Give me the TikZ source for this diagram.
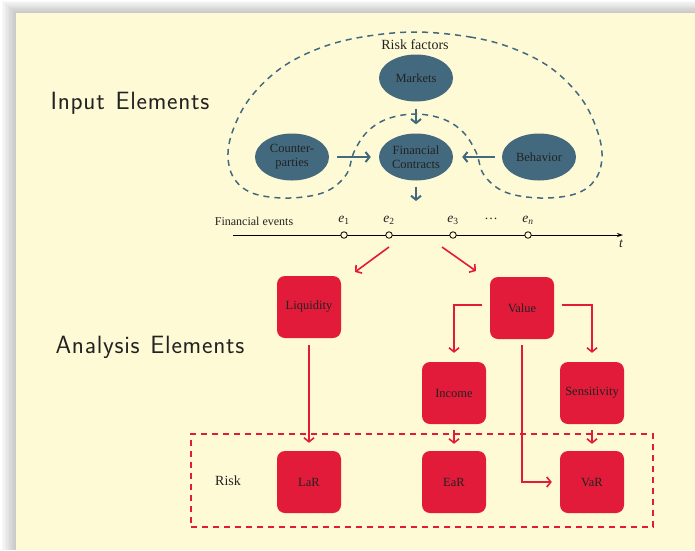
\documentclass[tikz,border=0pt]{standalone}
\usepackage{fontspec}
\setmainfont{Liberation Serif}
\usetikzlibrary{arrows.meta,shapes.geometric}
\definecolor{bgyellow}{HTML}{FFFAD6}
\definecolor{ebblue}{HTML}{43697F}
\definecolor{ebred}{HTML}{E31B3A}
\definecolor{txtdark}{HTML}{222222}
\newfontfamily\headfont[LetterSpace=3,WordSpace=1.25]{Latin Modern Sans}
\tikzset{
  ell/.style={ellipse, fill=ebblue, minimum width=74pt, minimum height=47pt, inner sep=0pt,
    font=\fontsize{12.5}{14}\selectfont, text=txtdark, align=center},
  rbox/.style={rectangle, rounded corners=8pt, fill=ebred, minimum width=64pt, minimum height=62pt,
    inner sep=0pt, font=\fontsize{12.5}{14}\selectfont, text=txtdark},
  barrow/.style={draw=ebblue, line width=2pt, -{Straight Barb[length=4pt,width=10pt]}},
  rarrow/.style={draw=ebred, line width=1.6pt, -{Straight Barb[length=4pt,width=10pt]}},
  evt/.style={circle, draw=black, fill=bgyellow, minimum size=6.5pt, inner sep=0pt, line width=0.8pt},
  evlab/.style={font=\fontsize{12}{14}\selectfont, text=txtdark},
  elab/.style={font=\fontsize{13.5}{15}\selectfont, text=txtdark},
  heading/.style={font=\headfont\fontsize{25}{28}\selectfont, text=txtdark, anchor=west},
  serif14/.style={font=\fontsize{14}{16}\selectfont, text=txtdark},
}
\begin{document}
\begin{tikzpicture}[x=1pt,y=-1pt]
\useasboundingbox (0,0) rectangle (695,550);
% shadow and background
\foreach \i in {1,...,10} {
  \fill[black, opacity=0.025] ({16-\i*1.4},{13-\i*1.2}) rectangle (695,550);
}
\fill[bgyellow] (16,13) rectangle (695,550);

% headings
\node[heading] (hin) at (47,103) {Input Elements};
\node[heading] (han) at (52,347) {Analysis Elements};

% risk factor region
\draw[ebblue, line width=1.5pt, dash pattern=on 6pt off 5pt]
  plot[smooth cycle, tension=0.6] coordinates {
  (415,32) (470,37) (512,48) (551,68) (581,98) (597,130) (602,157) (595,180) (575,194) (540,198)
  (505,192) (484,175) (476,152) (463,132) (443,119) (415,114) (387,119) (367,132) (354,152)
  (346,175) (325,192) (290,198) (255,194) (235,180) (228,157) (233,130) (250,98) (281,68)
  (320,48) (362,37)};

\node[serif14] (rf) at (415,45) {Risk factors};

% ellipses
\node[ell] (mk) at (416,78) {Markets};
\node[ell] (fc) at (416,157) {Financial\\Contracts};
\node[ell] (cp) at (292,157) {Counter-\\parties};
\node[ell] (bh) at (539,157) {Behavior};
\coordinate (fcout) at (416,201);

\draw[barrow, shorten <=7pt, shorten >=9pt] (mk) -- (fc);
\draw[barrow, shorten <=8pt, shorten >=8pt] (cp) -- (fc);
\draw[barrow, shorten <=7pt, shorten >=9pt] (bh) -- (fc);
\draw[barrow, shorten <=6pt] (fc) -- (fcout);

% timeline
\node[evlab, anchor=center] (fe) at (254,221) {Financial events};
\coordinate (axs) at (233,235);
\coordinate (axe) at (623,235);
\draw[black, line width=0.8pt, -{Stealth[length=6pt,width=4pt]}] (axs) -- (axe);
\node[evt] (ev1) at (344,235) {};
\node[evt] (ev2) at (389,235) {};
\node[evt] (ev3) at (453,235) {};
\node[evt] (evn) at (528,235) {};
\node[elab] (le1) at (344,220) {\textit{e}\textsubscript{1}};
\node[elab] (le2) at (389,220) {\textit{e}\textsubscript{2}};
\node[elab] (le3) at (453,220) {\textit{e}\textsubscript{3}};
\node[elab] (ldots) at (491,219) {…};
\node[elab] (len) at (528,220) {\textit{e}\textsubscript{\textit{n}}};
\node[elab] (lt) at (621,244) {\textit{t}};

% red boxes
\node[rbox] (liq) at (309,307) {Liquidity};
\node[rbox] (val) at (522,308) {Value};
\node[rbox] (inc) at (454,393) {Income};
\node[rbox] (sen) at (592,393) {Sensitivity};
\node[rbox] (lar) at (309,482) {LaR};
\node[rbox] (ear) at (454,482) {EaR};
\node[rbox] (var) at (592,482) {VaR};

\coordinate (s1) at (389,247);
\coordinate (t1) at (355,272);
\coordinate (s2) at (442,247);
\coordinate (t2) at (476,271);
\draw[rarrow] (s1) -- (t1);
\draw[rarrow] (s2) -- (t2);

\draw[rarrow, shorten <=7pt, shorten >=8pt] (liq) -- (lar);
\draw[rarrow, shorten <=8pt, shorten >=9pt] (val.west |- 0,305) -| (inc);
\draw[rarrow, shorten <=8pt, shorten >=9pt] (val.east |- 0,305) -| (sen);
\draw[rarrow, shorten <=6pt, shorten >=8pt] (val) |- (var);
\draw[rarrow, shorten <=6pt, shorten >=7pt] (inc) -- (ear);
\draw[rarrow, shorten <=6pt, shorten >=7pt] (sen) -- (var);

% risk box
\node[draw=ebred, line width=1.5pt, dash pattern=on 6pt off 5pt, minimum width=462pt, minimum height=93pt, inner sep=0pt] (riskbox) at (422,480.5) {};
\node[serif14] (risk) at (228,481) {Risk};
\end{tikzpicture}
\end{document}
